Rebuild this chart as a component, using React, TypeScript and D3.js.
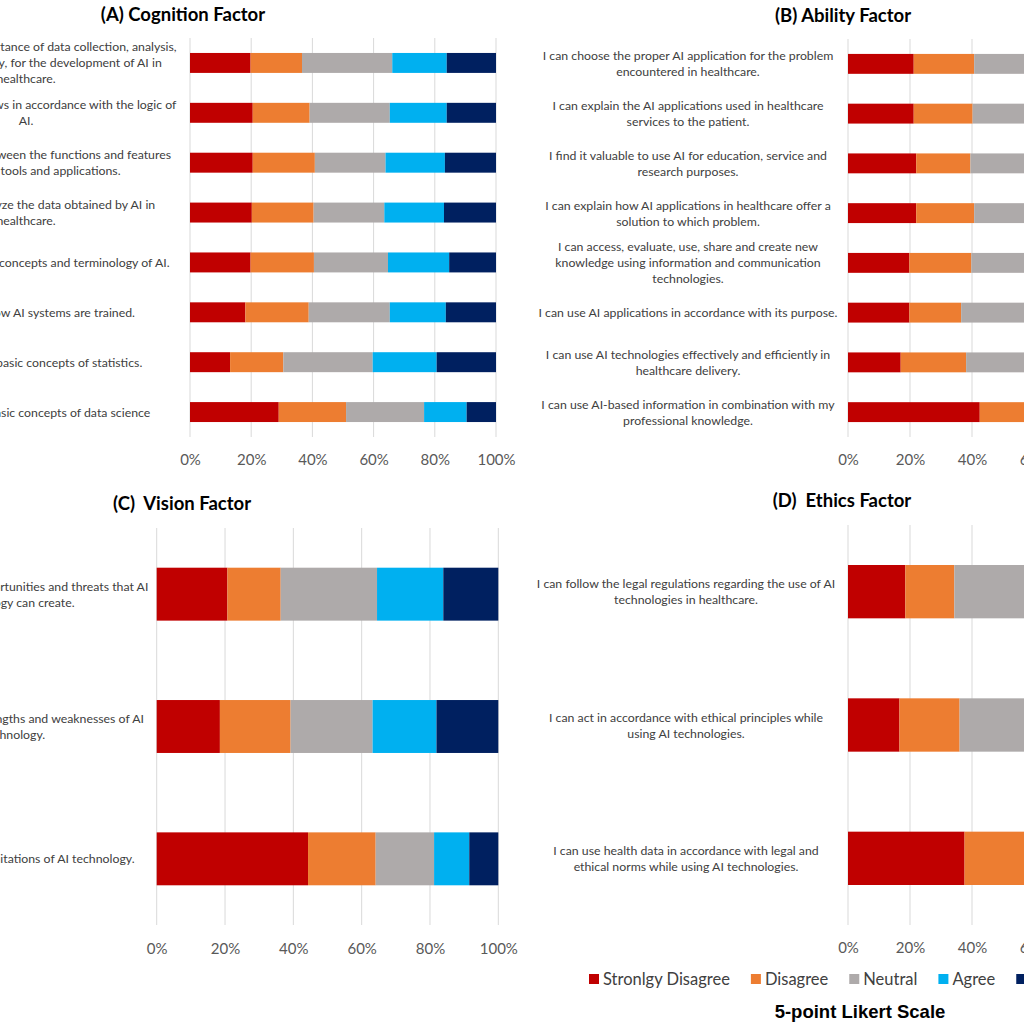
import React, { useEffect, useRef } from "react";
import * as d3 from "d3";

// Likert levels, left to right in every bar
const likertLevels = ["Stronlgy Disagree", "Disagree", "Neutral", "Agree", "Strongly Agree"];
const likertColors = ["#C00000", "#ED7D31", "#AEAAAA", "#00B0F0", "#002060"];
const tickValues = [0, 0.2, 0.4, 0.6, 0.8, 1];

// (A) Cognition factor, top to bottom
const cognitionItems = [
  "I can express the importance of data collection, analysis,\nevaluation and safety, for the development of AI in\nhealthcare.",
  "I can organize workflows in accordance with the logic of\nAI.",
  "I can differentiate between the functions and features\nof AI related tools and applications.",
  "I can properly analyze the data obtained by AI in\nhealthcare.",
  "I can define the basic concepts and terminology of AI.",
  "I can explain how AI systems are trained.",
  "I can define the basic concepts of statistics.",
  "I can define the basic concepts of data science",
];
// percentages: [SD, D, N, A, SA]
const cognitionValues = [
  [19.8, 16.8, 29.5, 17.8, 16.1],
  [20.5, 18.6, 26.2, 18.6, 16.1],
  [20.5, 20.3, 23.1, 19.4, 16.7],
  [20.2, 20.2, 23.1, 19.5, 17.0],
  [19.8, 20.7, 24.2, 20.0, 15.3],
  [18.1, 20.7, 26.5, 18.3, 16.4],
  [13.1, 17.4, 29.2, 20.9, 19.4],
  [29.0, 22.0, 25.5, 13.9, 9.6],
];

// (B) Ability factor
const abilityItems = [
  "I can choose the proper AI application for the problem\nencountered in healthcare.",
  "I can explain the AI applications used in healthcare\nservices to the patient.",
  "I find it valuable to use AI for education, service and\nresearch purposes.",
  "I can explain how AI applications in healthcare offer a\nsolution to which problem.",
  "I can access, evaluate, use, share and create new\nknowledge using information and communication\ntechnologies.",
  "I can use AI applications in accordance with its purpose.",
  "I can use AI technologies effectively and efficiently in\nhealthcare delivery.",
  "I can use AI-based information in combination with my\nprofessional knowledge.",
];
const abilityValues = [
  [21.2, 19.5, 25.5, 18.5, 15.3],
  [21.2, 19.0, 26.0, 18.3, 15.5],
  [22.0, 17.5, 26.5, 18.0, 16.0],
  [22.0, 18.7, 24.8, 18.5, 16.0],
  [19.8, 20.0, 25.7, 19.0, 15.5],
  [19.8, 16.7, 28.5, 19.5, 15.5],
  [17.0, 21.1, 27.4, 19.0, 15.5],
  [42.5, 20.0, 18.0, 11.0, 8.5],
];

// (C) Vision factor
const visionItems = [
  "I can foresee the opportunities and threats that AI\ntechnology can create.",
  "I can explain the strengths and weaknesses of AI\ntechnology.",
  "I can explain the limitations of AI technology.",
];
const visionValues = [
  [20.7, 15.6, 28.2, 19.4, 16.1],
  [18.5, 20.7, 24.0, 18.7, 18.1],
  [44.3, 19.8, 17.1, 10.3, 8.5],
];

// (D) Ethics factor
const ethicsItems = [
  "I can follow the legal regulations regarding the use of AI\ntechnologies in healthcare.",
  "I can act in accordance with ethical principles while\nusing AI technologies.",
  "I can use health data in accordance with legal and\nethical norms while using AI technologies.",
];
const ethicsValues = [
  [18.5, 15.8, 29.0, 20.0, 16.7],
  [16.6, 19.4, 27.0, 20.0, 17.0],
  [37.6, 21.0, 20.0, 12.0, 9.4],
];

const FONT = "Lato, 'Open Sans', sans-serif";

const panels = [
  { title: "(A) Cognition Factor", items: cognitionItems, values: cognitionValues,
    x0: 190, x1: 496, top: 38, bottom: 437, labelX: 26, titleX: 183, titleY: 14, tickY: 460 },
  { title: "(B) Ability Factor", items: abilityItems, values: abilityValues,
    x0: 848, x1: 1158, top: 39, bottom: 437, labelX: 688, titleX: 843, titleY: 15, tickY: 460 },
  { title: "(C)  Vision Factor", items: visionItems, values: visionValues,
    x0: 156.7, x1: 498.3, top: 528, bottom: 925, labelX: 14, titleX: 182, titleY: 503, tickY: 949 },
  { title: "(D)  Ethics Factor", items: ethicsItems, values: ethicsValues,
    x0: 848, x1: 1158, top: 525, bottom: 925, labelX: 686, titleX: 842, titleY: 500, tickY: 948 },
];

function drawPanel(svg, p) {
  const chart = svg.append("g");
  const x = d3.scaleLinear().domain([0, 1]).range([p.x0, p.x1]);
  const y = d3.scaleBand()
    .domain(p.items.map((_, i) => i))
    .range([p.top, p.bottom])
    .paddingInner(0.6)
    .paddingOuter(0.3);

  // vertical gridlines
  chart.selectAll("line.grid")
    .data(tickValues)
    .join("line")
    .attr("class", "grid")
    .attr("x1", (d) => x(d))
    .attr("x2", (d) => x(d))
    .attr("y1", p.top)
    .attr("y2", p.bottom)
    .attr("stroke", "#D9D9D9")
    .attr("stroke-width", 1);

  // 100% stacked rows
  const rows = p.values.map((r, i) => {
    const total = d3.sum(r);
    const row = { idx: i };
    likertLevels.forEach((k, j) => { row[k] = r[j] / total; });
    return row;
  });
  const series = d3.stack().keys(likertLevels)(rows);

  chart.selectAll("g.series")
    .data(series)
    .join("g")
    .attr("fill", (_, i) => likertColors[i])
    .selectAll("rect")
    .data((s) => s)
    .join("rect")
    .attr("x", (d) => x(d[0]))
    .attr("width", (d) => x(d[1]) - x(d[0]))
    .attr("y", (d) => y(d.data.idx))
    .attr("height", y.bandwidth());

  // axis tick labels
  const axis = chart.append("g")
    .attr("transform", `translate(0, ${p.tickY})`)
    .call(d3.axisBottom(x).tickValues(tickValues).tickFormat(d3.format(".0%")).tickSize(0));
  axis.select(".domain").remove();
  axis.selectAll("text")
    .attr("y", 0)
    .attr("dy", "0.35em")
    .attr("fill", "#595959")
    .style("font-family", FONT)
    .style("font-size", "15px");

  // category labels (centred, wrapped)
  const lineH = 16;
  p.items.forEach((label, i) => {
    const lines = label.split("\n");
    const cy = y(i) + y.bandwidth() / 2;
    const t = chart.append("text")
      .attr("text-anchor", "middle")
      .attr("fill", "#404040")
      .style("font-family", FONT)
      .style("font-size", "12.3px");
    lines.forEach((ln, k) => {
      t.append("tspan")
        .attr("x", p.labelX)
        .attr("y", cy + (k - (lines.length - 1) / 2) * lineH)
        .attr("dominant-baseline", "central")
        .text(ln);
    });
  });

  // panel title
  chart.append("text")
    .attr("x", p.titleX)
    .attr("y", p.titleY)
    .attr("text-anchor", "middle")
    .attr("dominant-baseline", "central")
    .attr("fill", "#000")
    .style("font-family", FONT)
    .style("font-weight", "bold")
    .style("font-size", "18.5px")
    .style("white-space", "pre")
    .text(p.title);
}

function drawLegend(svg) {
  const legend = svg.append("g").attr("transform", "translate(589, 979)");
  let cx = 0;
  likertLevels.forEach((lvl, i) => {
    legend.append("rect")
      .attr("x", cx)
      .attr("y", -5)
      .attr("width", 10)
      .attr("height", 10)
      .attr("fill", likertColors[i]);
    const t = legend.append("text")
      .attr("x", cx + 14)
      .attr("y", 0)
      .attr("dominant-baseline", "central")
      .attr("fill", "#404040")
      .style("font-family", FONT)
      .style("font-size", "16.5px")
      .text(lvl);
    const w = t.node().getComputedTextLength();
    cx += 14 + w + 21;
  });

  svg.append("text")
    .attr("x", 860)
    .attr("y", 1011)
    .attr("text-anchor", "middle")
    .attr("dominant-baseline", "central")
    .attr("fill", "#000")
    .style("font-family", "'Liberation Sans', Arial, sans-serif")
    .style("font-weight", "bold")
    .style("font-size", "18.5px")
    .text("5-point Likert Scale");
}

export default function App() {
  const ref = useRef(null);

  useEffect(() => {
    const svg = d3.select(ref.current);
    svg.selectAll("*").remove();
    panels.forEach((p) => drawPanel(svg, p));
    drawLegend(svg);
  }, []);

  return (
    <svg
      ref={ref}
      width={1024}
      height={1024}
      style={{ position: "absolute", left: 0, top: 0, background: "#fff" }}
    />
  );
}
